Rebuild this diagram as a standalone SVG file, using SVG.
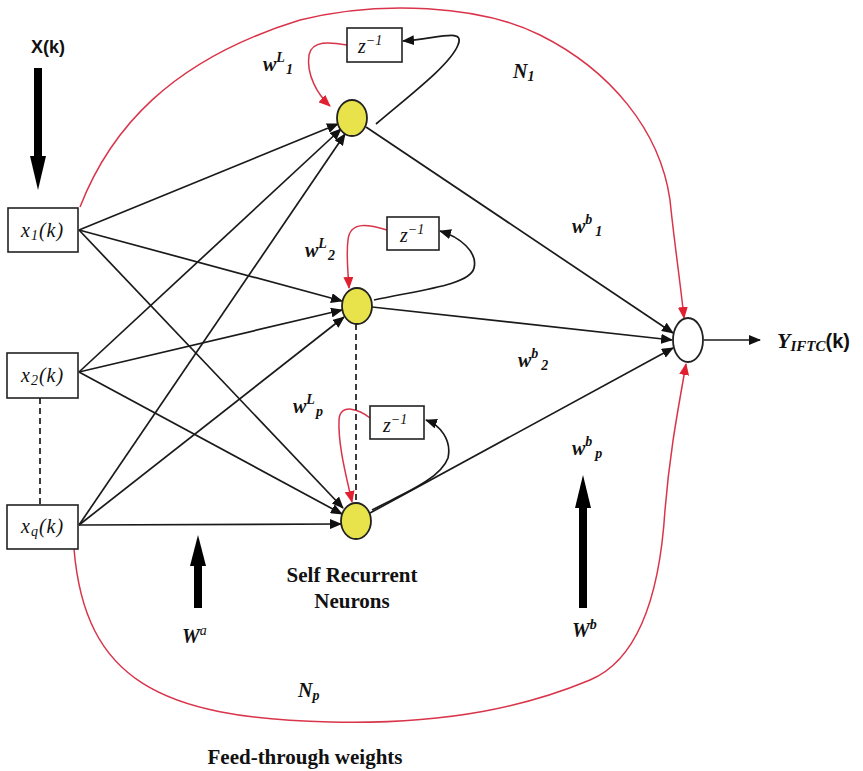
<svg xmlns="http://www.w3.org/2000/svg" width="863" height="771" viewBox="0 0 863 771">
<style>
.box{fill:#fff;stroke:#222;stroke-width:1.6}
.neu{fill:#e8e34a;stroke:#222;stroke-width:1.8}
.ln{fill:none;stroke:#1a1a1a;stroke-width:1.7}
.red{fill:none;stroke:#d9344a;stroke-width:1.5}
.math{font-family:"Liberation Serif",serif;font-style:italic;font-size:20px;fill:#111}
.lab{font-family:"Liberation Serif",serif;font-style:italic;font-weight:bold;font-size:20px;fill:#111}
.sm{font-size:14px}
.bold{font-family:"Liberation Serif",serif;font-weight:bold;font-size:21px;fill:#111}
.sans{font-family:"Liberation Sans",sans-serif;font-weight:bold;font-size:18px;fill:#111}
</style>
<defs>
<marker id="ab" markerUnits="userSpaceOnUse" markerWidth="12" markerHeight="10" refX="11" refY="5" orient="auto"><path d="M0,0 L12,5 L0,10 z" fill="#111"/></marker>
<marker id="ar" markerUnits="userSpaceOnUse" markerWidth="12" markerHeight="10" refX="11" refY="5" orient="auto"><path d="M0,0 L12,5 L0,10 z" fill="#e02030"/></marker>
</defs>

<g id="connectors">
<path class="ln" d="M79,230 L338,124" marker-end="url(#ab)"/>
<path class="ln" d="M79,372 L341,129" marker-end="url(#ab)"/>
<path class="ln" d="M79,525 L345,134" marker-end="url(#ab)"/>
<path class="ln" d="M79,230 L342,301" marker-end="url(#ab)"/>
<path class="ln" d="M79,372 L342,310" marker-end="url(#ab)"/>
<path class="ln" d="M79,525 L344,317" marker-end="url(#ab)"/>
<path class="ln" d="M79,230 L343,508" marker-end="url(#ab)"/>
<path class="ln" d="M79,372 L342,514" marker-end="url(#ab)"/>
<path class="ln" d="M79,525 L341,524" marker-end="url(#ab)"/>
<path class="ln" d="M366,127 L673,333" marker-end="url(#ab)"/>
<path class="ln" d="M372,307 L672,340" marker-end="url(#ab)"/>
<path class="ln" d="M370,513 L673,348" marker-end="url(#ab)"/>
<path class="ln" d="M704,340 L760,340" marker-end="url(#ab)"/>
<path class="ln" d="M376,124 C410,95 450,65 458,45 C465,28 440,38 403,41" marker-end="url(#ab)"/>
<path class="ln" d="M374,300 C420,290 470,285 474,268 C478,252 460,237 440,231" marker-end="url(#ab)"/>
<path class="ln" d="M372,510 C400,495 440,480 448,458 C452,440 440,425 426,420" marker-end="url(#ab)"/>
<path class="red" d="M347,45 C330,42 312,40 309,55 C306,75 318,95 330,106" marker-end="url(#ar)" stroke="#e02030"/>
<path class="red" d="M387,230 C370,225 350,220 348,240 C346,255 348,270 349,288" marker-end="url(#ar)" stroke="#e02030"/>
<path class="red" d="M370,418 C360,410 340,402 339,420 C338,445 346,475 352,502" marker-end="url(#ar)" stroke="#e02030"/>
<path class="ln" d="M40,398 L40,505" stroke-dasharray="6,4"/>
<path class="ln" d="M356,324 L356,503" stroke-dasharray="6,4"/>
<path class="red" d="M80,207 C110,130 170,60 300,20 C380,0 480,5 540,35 C610,70 660,130 670,200 C674,240 680,280 684,318" marker-end="url(#ar)"/>
<path class="red" d="M74,549 C85,680 160,718 330,722 C450,725 530,705 590,680 C640,659 660,590 665,510 C670,450 678,410 686,364" marker-end="url(#ar)"/>
<g fill="#000">
<rect x="34" y="68" width="8" height="92"/><path d="M30,156 L46,156 L38,190 z"/>
<rect x="194" y="562" width="8" height="46"/><path d="M190,566 L206,566 L198,535 z"/>
<rect x="579" y="505" width="8" height="103"/><path d="M575,508 L591,508 L583,475 z"/>
</g>
</g>

<g id="x1"><rect class="box" x="8" y="208" width="70" height="44"/><text class="math" x="21" y="237" letter-spacing="1">x<tspan class="sm" dy="3">1</tspan><tspan dy="-3">(k)</tspan></text></g>
<g id="x2"><rect class="box" x="7" y="353" width="71" height="45"/><text class="math" x="21" y="382" letter-spacing="1">x<tspan class="sm" dy="3">2</tspan><tspan dy="-3">(k)</tspan></text></g>
<g id="xq"><rect class="box" x="7" y="505" width="71" height="44"/><text class="math" x="21" y="533" letter-spacing="1">x<tspan class="sm" dy="3">q</tspan><tspan dy="-3">(k)</tspan></text></g>

<g id="n1"><ellipse class="neu" cx="352" cy="118" rx="15" ry="18"/></g>
<g id="n2"><ellipse class="neu" cx="357" cy="306" rx="15" ry="18"/></g>
<g id="np"><ellipse class="neu" cx="356" cy="521" rx="15" ry="18"/></g>
<g id="out"><ellipse cx="688" cy="340" rx="15" ry="22" fill="#fff" stroke="#222" stroke-width="1.8"/></g>

<g id="z1"><rect class="box" x="347" y="28" width="55" height="34"/><text class="math" x="358" y="53">z<tspan class="sm" dy="-8">−1</tspan></text></g>
<g id="z2"><rect class="box" x="387" y="217" width="52" height="33"/><text class="math" x="400" y="242">z<tspan class="sm" dy="-8">−1</tspan></text></g>
<g id="zp"><rect class="box" x="370" y="406" width="54" height="33"/><text class="math" x="383" y="432">z<tspan class="sm" dy="-8">−1</tspan></text></g>

<g id="labels">
<text class="sans" x="31" y="53">X(k)</text>
<text class="lab" x="263" y="71">w<tspan class="sm" dy="-9">L</tspan><tspan class="sm" dy="12" dx="1">1</tspan></text>
<text class="lab" x="305" y="257">w<tspan class="sm" dy="-9">L</tspan><tspan class="sm" dy="12" dx="1">2</tspan></text>
<text class="lab" x="293" y="413">w<tspan class="sm" dy="-9">L</tspan><tspan class="sm" dy="12" dx="1">p</tspan></text>
<text class="lab" x="572" y="233">w<tspan class="sm" dy="-9">b</tspan><tspan class="sm" dy="12" dx="3">1</tspan></text>
<text class="lab" x="518" y="367">w<tspan class="sm" dy="-9">b</tspan><tspan class="sm" dy="12" dx="3">2</tspan></text>
<text class="lab" x="572" y="455">w<tspan class="sm" dy="-9">b</tspan><tspan class="sm" dy="12" dx="3">p</tspan></text>
<text class="lab" x="513" y="78" font-size="18">N<tspan class="sm" dy="3">1</tspan></text>
<text class="lab" x="298" y="697" font-size="18">N<tspan class="sm" dy="3">p</tspan></text>
<text class="lab" x="182" y="643">W<tspan class="sm" dy="-8" font-weight="normal">a</tspan></text>
<text class="lab" x="572" y="637">W<tspan class="sm" dy="-8">b</tspan></text>
<text x="777" y="348" font-family="Liberation Serif,serif" font-style="italic" font-weight="bold" font-size="22" fill="#111">Y<tspan font-size="15" dy="3">IFTC</tspan><tspan dy="-3" font-family="Liberation Sans,sans-serif" font-style="normal" font-size="20">(k)</tspan></text>
<text class="bold" x="352" y="582" text-anchor="middle">Self Recurrent</text>
<text class="bold" x="352" y="608" text-anchor="middle">Neurons</text>
<text class="bold" x="305" y="764" text-anchor="middle" font-size="22">Feed-through weights</text>
</g>
</svg>
